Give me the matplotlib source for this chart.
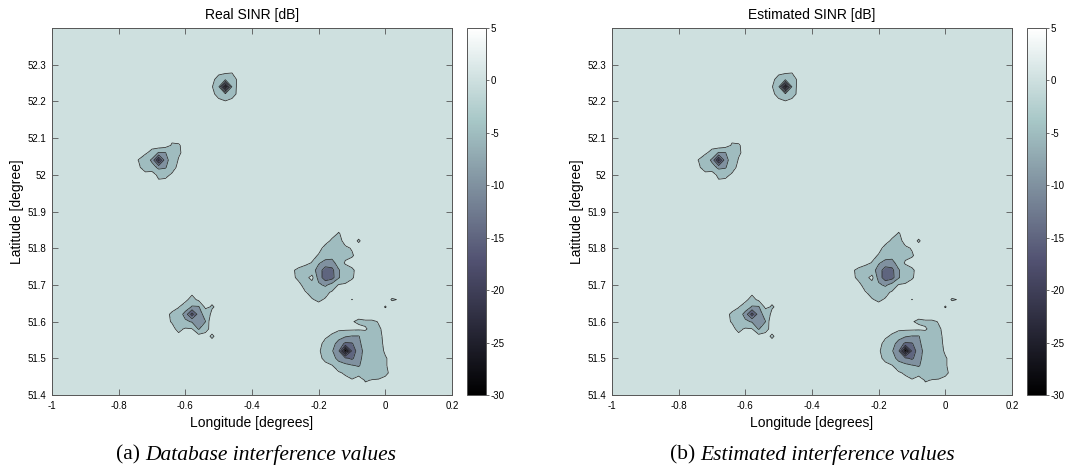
import numpy as np
import matplotlib
matplotlib.use("Agg")
import matplotlib.pyplot as plt
from matplotlib.colors import Normalize
from matplotlib.cm import ScalarMappable

# ---------------- data ----------------
LON = np.round(np.arange(-1.0, 0.2001, 0.02), 2)
LAT = np.round(np.arange(51.4, 52.4001, 0.02), 2)
BACKGROUND_DB = 1.0
LEVELS = [-30, -25, -20, -15, -10, -5, 0, 5]
CBAR_TICKS = [-30, -25, -20, -15, -10, -5, 0, 5]
XTICKS = [-1.0, -0.8, -0.6, -0.4, -0.2, 0.0, 0.2]
XTICK_LABELS = ["-1", "-0.8", "-0.6", "-0.4", "-0.2", "0", "0.2"]
YTICKS = [51.4, 51.5, 51.6, 51.7, 51.8, 51.9, 52.0, 52.1, 52.2, 52.3]
YTICK_LABELS = ["51.4", "51.5", "51.6", "51.7", "51.8", "51.9", "52", "52.1", "52.2", "52.3"]

# rows of SINR values: (lat, first lon, values going east)
BLOB_NORTH = [
    (52.28, -0.46, [0.3]),
    (52.26, -0.50, [-1.5, -4, -2]),
    (52.24, -0.52, [0.3, -4, -28, -4.5, 2.4]),
    (52.22, -0.50, [-1.5, -4, -1.5]),
    (52.20, -0.48, [0.3]),
]
BLOB_WEST = [
    (52.08, -0.68, [3, 2, -0.5, -0.3]),
    (52.06, -0.72, [0.5, -1, -5.5, -5.2, -2, -0.5]),
    (52.04, -0.74, [-0.1, -2, -6, -21, -7, -2.5, 0.3]),
    (52.02, -0.74, [0.5, -1.5, -3, -6, -5.5, -1.5, 1]),
    (52.00, -0.72, [1, 2.5, -1.5, -1, 0.5]),
]
BLOB_EAST = [
    (51.84, -0.14, [-0.2]),
    (51.82, -0.16, [-0.5, -1]),
    (51.82, -0.08, [-0.3]),
    (51.80, -0.18, [-1, -2, -2, -0.5, 0.2]),
    (51.78, -0.20, [-0.3, -3, -3, -2, -1, -0.3]),
    (51.76, -0.22, [-0.2, -4.5, -6.5, -7, -2.5, 0.5]),
    (51.74, -0.28, [0.3, -0.5, -2, -3, -7, -13, -11.5, -5.5, -2, -0.5]),
    (51.72, -0.26, [-1, -1.5, 1.5, -7, -13, -12, -5.5, -2, -0.3]),
    (51.70, -0.24, [-1.5, -2, -4, -6, -3, 0.3, 0.5]),
    (51.68, -0.24, [0.2, -1, -2, -1, 0.5]),
    (51.66, -0.22, [0.2, -0.5, 0.3]),
    (51.66, -0.10, [-0.05]),
    (51.66, 0.02, [-0.2, 0.1]),
    (51.64, 0.00, [-0.15]),
]
BLOB_SOUTHWEST = [
    (51.66, -0.58, [-1.5]),
    (51.64, -0.62, [0.2, -2, -5.5, -5.5, 1, -0.43]),
    (51.62, -0.66, [0.8, -0.5, -2, -7, -17, -7.5, -3]),
    (51.60, -0.64, [-0.3, -1.5, -4, -5.5, -7, -5.2, 4.5]),
    (51.58, -0.62, [-1.0, 0.5, 0.2, -5.5, -1]),
    (51.56, -0.56, [2, 1, -0.43]),
]
BLOB_SOUTHEAST = [
    (51.62, -0.06, [4, 4]),
    (51.60, -0.10, [0.2, -0.5, -1, -1, 0.3]),
    (51.58, -0.10, [1, 0.8, 0.5, -1.5, -0.5]),
    (51.56, -0.18, [0.5, -0.5, -3, -4.5, -5.3, -5.3, -2, -1.5, -1]),
    (51.54, -0.18, [-1, -3, -7, -11, -10.5, -6, -3, -2, -1.5]),
    (51.52, -0.20, [0.3, -1, -4.5, -9, -29, -14, -7, -3.5, -2, -1.5, 0.5]),
    (51.50, -0.18, [-1, -2.5, -7, -9, -11, -6.5, -3, -2, -1.5, -0.3]),
    (51.48, -0.16, [0.2, -2, -3.5, -4.5, -5.5, -2.5, -2, -1.5, -0.3]),
    (51.46, -0.14, [0.5, -0.5, -1.5, -1.5, -2, -2, -1.5, -0.8]),
    (51.44, -0.10, [0.3, 2, -0.3, 0.2, 0.3]),
]
REAL_ROWS = BLOB_NORTH + BLOB_WEST + BLOB_EAST + BLOB_SOUTHWEST + BLOB_SOUTHEAST
ESTIMATED_ROWS = BLOB_NORTH + BLOB_WEST + BLOB_EAST + BLOB_SOUTHWEST + BLOB_SOUTHEAST

PANELS = [
    ("Real SINR [dB]", REAL_ROWS, "(a)", "Database interference values"),
    ("Estimated SINR [dB]", ESTIMATED_ROWS, "(b)", "Estimated interference values"),
]


def build_field(rows):
    z = np.full((len(LAT), len(LON)), BACKGROUND_DB, dtype=float)
    for lat, lon0, vals in rows:
        j = int(np.argmin(np.abs(LAT - lat)))
        i0 = int(np.argmin(np.abs(LON - lon0)))
        for k, v in enumerate(vals):
            z[j, i0 + k] = v
    return z


# ---------------- figure ----------------
W, H = 1070, 469
fig = plt.figure(figsize=(W / 100, H / 100), dpi=100)
plt.rcParams["font.family"] = ["Liberation Sans", "DejaVu Sans"]

cmap = plt.get_cmap("bone")
norm = Normalize(vmin=-30, vmax=5)
fill_colors = [cmap(norm(l)) for l in LEVELS[:-1]]

ax_px = [(52, 28, 400, 367), (612, 28, 400, 367)]
cb_px = [(467, 28, 19, 367), (1027, 28, 19, 367)]
cap_cx = [256, 812]


def fx(x):
    return x / W


def fy(y):
    return 1 - y / H


spine_c = "#555555"
for (title, rows, tag, desc), (x0, y0, w, h), (cx0, cy0, cw, ch), ccx in zip(PANELS, ax_px, cb_px, cap_cx):
    z = build_field(rows)
    ax = fig.add_axes([fx(x0), fy(y0 + h), w / W, h / H])
    ax.contourf(LON, LAT, z, levels=LEVELS, colors=fill_colors)
    ax.contour(LON, LAT, z, levels=LEVELS[1:-1], colors="#2a2a2a", linewidths=0.55,
               linestyles="solid")
    ax.set_xlim(-1.0, 0.2)
    ax.set_ylim(51.4, 52.4)
    ax.set_xticks(XTICKS)
    ax.set_xticklabels(XTICK_LABELS)
    ax.set_yticks(YTICKS)
    ax.set_yticklabels(YTICK_LABELS)
    ax.tick_params(direction="in", top=True, right=True, length=4, width=0.6,
                   labelsize=7, color=spine_c, pad=4)
    for s in ax.spines.values():
        s.set_color(spine_c)
        s.set_linewidth(0.7)
    fig.text(fx(x0 + w / 2), fy(15), title, ha="center", va="center", fontsize=10)
    fig.text(fx(x0 + w / 2), fy(423), "Longitude [degrees]", ha="center", va="center", fontsize=10)
    fig.text(fx(x0 - 35), fy(y0 + h / 2), "Latitude [degree]", ha="center", va="center",
             rotation=90, fontsize=10)

    cax = fig.add_axes([fx(cx0), fy(cy0 + ch), cw / W, ch / H])
    sm = ScalarMappable(norm=norm, cmap=cmap)
    cb = fig.colorbar(sm, cax=cax, ticks=CBAR_TICKS)
    cb.ax.set_yticklabels([str(t) for t in CBAR_TICKS])
    cb.ax.tick_params(direction="out", length=2.5, width=0.6, labelsize=7, color=spine_c, pad=1)
    cb.outline.set_edgecolor(spine_c)
    cb.outline.set_linewidth(0.7)

    serif = ["Liberation Serif", "DejaVu Serif"]
    t1 = fig.text(0, fy(455), tag, ha="left", va="center", fontsize=15.5, family=serif)
    t2 = fig.text(0, fy(455), desc, ha="left", va="center", fontsize=15.5, style="italic",
                  family=serif)
    fig.canvas.draw()
    r = fig.canvas.get_renderer()
    w1 = t1.get_window_extent(r).width
    w2 = t2.get_window_extent(r).width
    sp = 5.0
    left = ccx - (w1 + sp + w2) / 2
    t1.set_x(fx(left))
    t2.set_x(fx(left + w1 + sp))

fig.savefig("out.png", dpi=100)
